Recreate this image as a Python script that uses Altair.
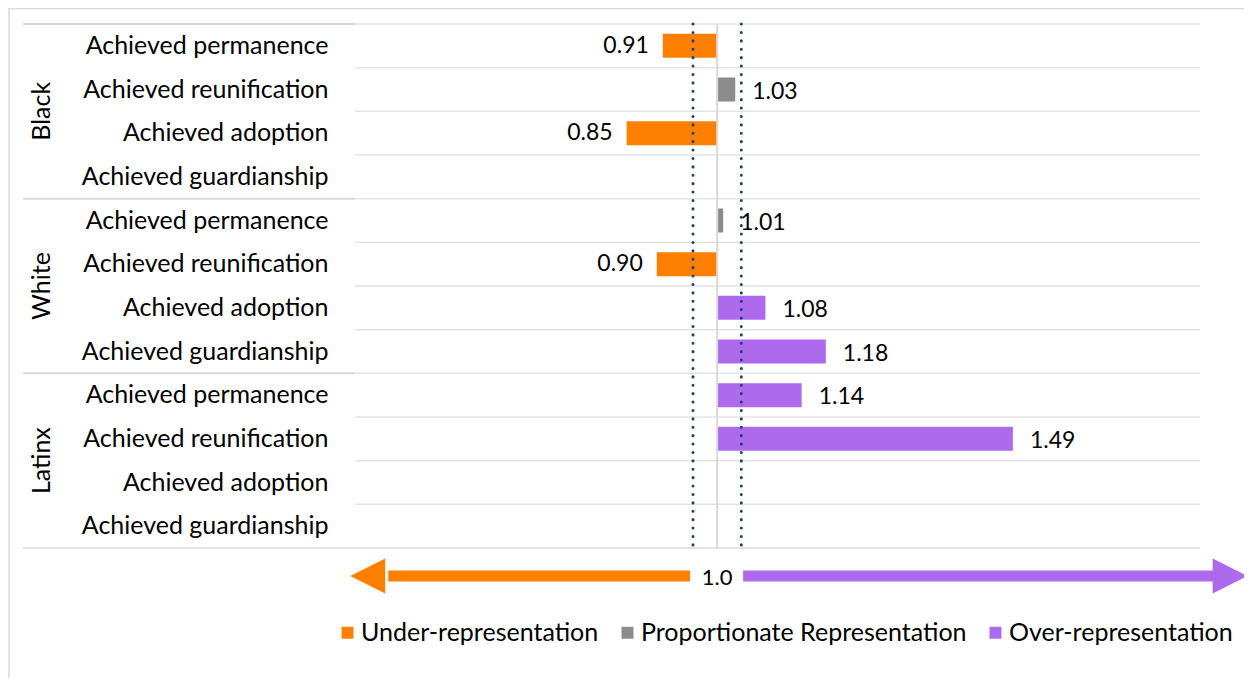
import altair as alt
import pandas as pd

# ---------------- data ----------------
groups = ["Black", "White", "Latinx"]
outcomes = ["Achieved permanence", "Achieved reunification",
            "Achieved adoption", "Achieved guardianship"]
black_values = [0.91, 1.03, 0.85, None]
white_values = [1.01, 0.90, 1.08, 1.18]
latinx_values = [1.14, 1.49, None, None]
black_status = ["Under-representation", "Proportionate Representation", "Under-representation", None]
white_status = ["Proportionate Representation", "Under-representation", "Over-representation", "Over-representation"]
latinx_status = ["Over-representation", "Over-representation", None, None]

legend_labels = ["Under-representation", "Proportionate Representation", "Over-representation"]
legend_colors = ["#FF8000", "#8C8C8C", "#AE6AEC"]
thresholds = [0.96, 1.04]
parity = 1.0
parity_label = "1.0"

# ---------------- layout ----------------
W, H = 845, 524
FONT = "Lato"
FS = 25

values = {"Black": black_values, "White": white_values, "Latinx": latinx_values}
status = {"Black": black_status, "White": white_status, "Latinx": latinx_status}

rows = []
for g in groups:
    for i, o in enumerate(outcomes):
        rows.append({"row": f"{g}|{o}", "group": g, "outcome": o, "idx": i,
                     "value": values[g][i], "status": status[g][i], "base": parity})
rows_df = pd.DataFrame(rows)
row_keys = list(rows_df["row"])
bars_df = rows_df.dropna(subset=["value"]).copy()

xscale = alt.Scale(domain=[0.4, 1.8], nice=False, zero=False)
yscale = alt.Scale(domain=row_keys, paddingInner=0, paddingOuter=0)
yaxis = alt.Axis(title=None, labelExpr="split(datum.label, '|')[1]",
                 labelFont=FONT, labelFontSize=FS, labelColor="#000000",
                 labelPadding=27, labelLimit=400, ticks=False, domain=False,
                 grid=False)


def Y(bp=None):
    kw = {}
    if bp is not None:
        kw["bandPosition"] = bp
    return alt.Y("row:N", scale=yscale, sort=row_keys, axis=yaxis, **kw)


# row separators
grid = alt.Chart(rows_df).mark_rule(color="#E3E3E3", strokeWidth=1.5).encode(
    y=Y(0), x=alt.value(0), x2=alt.value(W))
grid_bottom = alt.Chart(rows_df.tail(1)).mark_rule(color="#D9D9D9", strokeWidth=1.5).encode(
    y=Y(1), x=alt.value(-332), x2=alt.value(W))
group_lines = alt.Chart(rows_df[rows_df["idx"] == 0]).mark_rule(color="#D9D9D9", strokeWidth=2).encode(
    y=Y(0), x=alt.value(-332), x2=alt.value(0))

center = alt.Chart(pd.DataFrame({"x": [parity]})).mark_rule(color="#D9D9D9", strokeWidth=2).encode(
    x=alt.X("x:Q", scale=xscale, axis=None), y=alt.value(0), y2=alt.value(H))

bars = alt.Chart(bars_df).mark_bar(height=alt.RelativeBandSize(0.55)).encode(
    y=Y(),
    x=alt.X("value:Q", scale=xscale, axis=None),
    x2="base:Q",
    color=alt.Color("status:N", scale=alt.Scale(domain=legend_labels, range=legend_colors),
                    legend=alt.Legend(title=None, orient="none", direction="horizontal",
                                      legendX=-20, legendY=596, symbolType="square",
                                      symbolSize=144, symbolStrokeWidth=0,
                                      labelFont=FONT, labelFontSize=25, labelColor="#000000",
                                      labelOffset=1, columnPadding=16, padding=0,
                                      labelLimit=500)),
)

dots = alt.Chart(pd.DataFrame({"t": thresholds})).mark_rule(
    color="#17456F", strokeWidth=3, strokeDash=[0.1, 8.3], strokeCap="round").encode(
    x=alt.X("t:Q", scale=xscale, axis=None), y=alt.value(0), y2=alt.value(H))

lab_under = alt.Chart(bars_df[bars_df["status"] == "Under-representation"]).mark_text(
    align="right", baseline="middle", dx=-14, font=FONT, fontSize=23, color="#000000").encode(
    y=Y(), x=alt.X("value:Q", scale=xscale, axis=None), text=alt.Text("value:Q", format=".2f"))
lab_over = alt.Chart(bars_df[bars_df["status"] != "Under-representation"]).mark_text(
    align="left", baseline="middle", dx=17, dy=2, font=FONT, fontSize=23, color="#000000").encode(
    y=Y(), x=alt.X("value:Q", scale=xscale, axis=None), text=alt.Text("value:Q", format=".2f"))

grp_df = pd.DataFrame({"group": groups, "row": [f"{g}|{outcomes[1]}" for g in groups]})
grp_labels = alt.Chart(grp_df).mark_text(
    angle=270, align="center", baseline="middle", font=FONT, fontSize=FS, color="#000000").encode(
    y=Y(1), x=alt.value(-313), text="group:N")

# arrow under the axis
AY = 552
left_shaft = alt.Chart(pd.DataFrame({"a": [0.455], "b": [0.955]})).mark_rule(
    color=legend_colors[0], strokeWidth=11).encode(
    x=alt.X("a:Q", scale=xscale, axis=None), x2="b:Q", y=alt.value(AY))
right_shaft = alt.Chart(pd.DataFrame({"a": [1.043], "b": [1.83]})).mark_rule(
    color=legend_colors[2], strokeWidth=11).encode(
    x=alt.X("a:Q", scale=xscale, axis=None), x2="b:Q", y=alt.value(AY))
left_head = alt.Chart(pd.DataFrame({"a": [0.392]})).mark_point(
    shape="M 0 0 L 2 -1 L 2 1 Z", size=1225, filled=True, opacity=1,
    color=legend_colors[0], strokeWidth=0).encode(
    x=alt.X("a:Q", scale=xscale, axis=None), y=alt.value(AY))
right_head = alt.Chart(pd.DataFrame({"a": [1.879]})).mark_point(
    shape="M 0 0 L -2 -1 L -2 1 Z", size=1225, filled=True, opacity=1,
    color=legend_colors[2], strokeWidth=0).encode(
    x=alt.X("a:Q", scale=xscale, axis=None), y=alt.value(AY))
arrow_text = alt.Chart(pd.DataFrame({"x": [parity], "t": [parity_label]})).mark_text(
    align="center", baseline="middle", font=FONT, fontSize=22, color="#000000").encode(
    x=alt.X("x:Q", scale=xscale, axis=None), y=alt.value(AY + 2), text="t:N")

# outer frame
frame_left = alt.Chart(pd.DataFrame({"k": [0]})).mark_rule(color="#D9D9D9", strokeWidth=1.5).encode(
    x=alt.value(-346), y=alt.value(-15.5), y2=alt.value(H + 130))
frame_top = alt.Chart(pd.DataFrame({"k": [0]})).mark_rule(color="#D9D9D9", strokeWidth=1.5).encode(
    y=alt.value(-15.5), x=alt.value(-347), x2=alt.value(W + 44))

chart = alt.layer(
    bars, frame_left, frame_top, grid, grid_bottom, group_lines, center, dots,
    lab_under, lab_over, grp_labels, left_shaft, right_shaft, left_head, right_head, arrow_text
).properties(
    width=W, height=H,
    autosize=alt.AutoSizeParams(type="none"),
    padding={"left": 347, "top": 16, "right": 44, "bottom": 130},
    background="white",
).configure_view(stroke=None)

chart.save("out.html", embed_options={"renderer": "svg", "actions": False})
